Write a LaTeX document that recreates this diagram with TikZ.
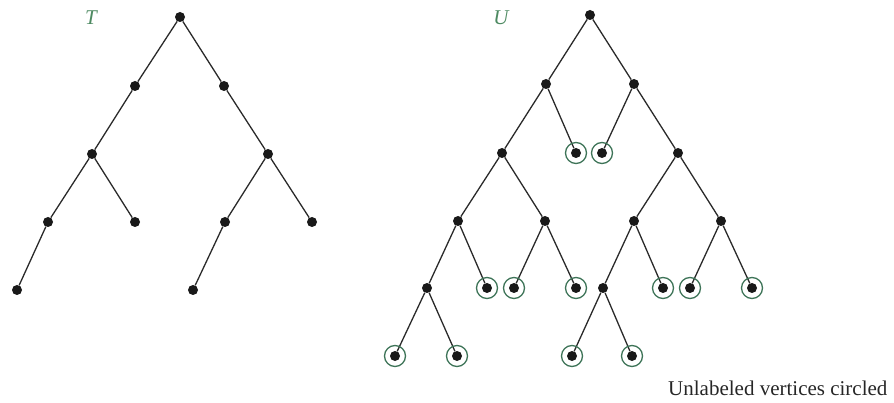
\documentclass[tikz,border=0pt]{standalone}
\usepackage{fontspec}
\setmainfont{Liberation Serif}
\definecolor{lblgreen}{HTML}{4E8A62}
\definecolor{ringgreen}{HTML}{3E7458}
\definecolor{edgegray}{HTML}{2A2A2A}
\begin{document}
\begin{tikzpicture}[x=1pt,y=-1pt,
  vtx/.style={circle,fill=black!90,inner sep=0pt,minimum size=10pt},
  ring/.style={circle,draw=ringgreen,line width=1.3pt,inner sep=0pt,minimum size=21pt},
  edge/.style={draw=edgegray,line width=1.3pt},
  treelabel/.style={text=lblgreen,font=\fontsize{21}{25}\selectfont\itshape},
  caption/.style={font=\fontsize{21}{25}\selectfont,text=black!85}]
\useasboundingbox (0,0) rectangle (894,403);
% ---------- Tree T ----------
\node[treelabel] (labT) at (91,18) {T};
\node[vtx] (t0) at (180,17) {};
\node[vtx] (t1) at (135,86) {};
\node[vtx] (t2) at (224,86) {};
\node[vtx] (t3) at (92,154) {};
\node[vtx] (t4) at (268,154) {};
\node[vtx] (t5) at (48,222) {};
\node[vtx] (t6) at (135,222) {};
\node[vtx] (t7) at (225,222) {};
\node[vtx] (t8) at (312,222) {};
\node[vtx] (t9) at (17,290) {};
\node[vtx] (t10) at (193,290) {};
\foreach \a/\b in {t0/t1,t0/t2,t1/t3,t2/t4,t3/t5,t3/t6,t4/t7,t4/t8,t5/t9,t7/t10}
  \draw[edge] (\a) -- (\b);
% ---------- Tree U ----------
\node[treelabel] (labU) at (501,18) {U};
\node[vtx] (u0) at (590,15) {};
\node[vtx] (u1) at (546,84) {};
\node[vtx] (u2) at (634,84) {};
\node[vtx] (u3) at (502,153) {};
\node[vtx] (u4) at (576,153) {};
\node[vtx] (u5) at (602,153) {};
\node[vtx] (u6) at (678,153) {};
\node[vtx] (u7) at (458,221) {};
\node[vtx] (u8) at (545,221) {};
\node[vtx] (u9) at (634,221) {};
\node[vtx] (u10) at (721,221) {};
\node[vtx] (u11) at (427,288) {};
\node[vtx] (u12) at (487,288) {};
\node[vtx] (u13) at (514,288) {};
\node[vtx] (u14) at (576,288) {};
\node[vtx] (u15) at (603,288) {};
\node[vtx] (u16) at (663,288) {};
\node[vtx] (u17) at (690,288) {};
\node[vtx] (u18) at (752,288) {};
\node[vtx] (u19) at (395,356) {};
\node[vtx] (u20) at (457,356) {};
\node[vtx] (u21) at (572,356) {};
\node[vtx] (u22) at (632,356) {};
\foreach \a/\b in {u0/u1,u0/u2,u1/u3,u1/u4,u2/u5,u2/u6,u3/u7,u3/u8,u6/u9,u6/u10,
  u7/u11,u7/u12,u8/u13,u8/u14,u9/u15,u9/u16,u10/u17,u10/u18,u11/u19,u11/u20,u15/u21,u15/u22}
  \draw[edge] (\a) -- (\b);
\foreach \n in {u4,u5,u12,u13,u14,u16,u17,u18,u19,u20,u21,u22}
  \node[ring] (r\n) at (\n) {};
% ---------- caption ----------
\node[caption,anchor=base west,inner sep=0pt] (cap) at (668,395) {Unlabeled vertices circled};
\end{tikzpicture}
\end{document}
